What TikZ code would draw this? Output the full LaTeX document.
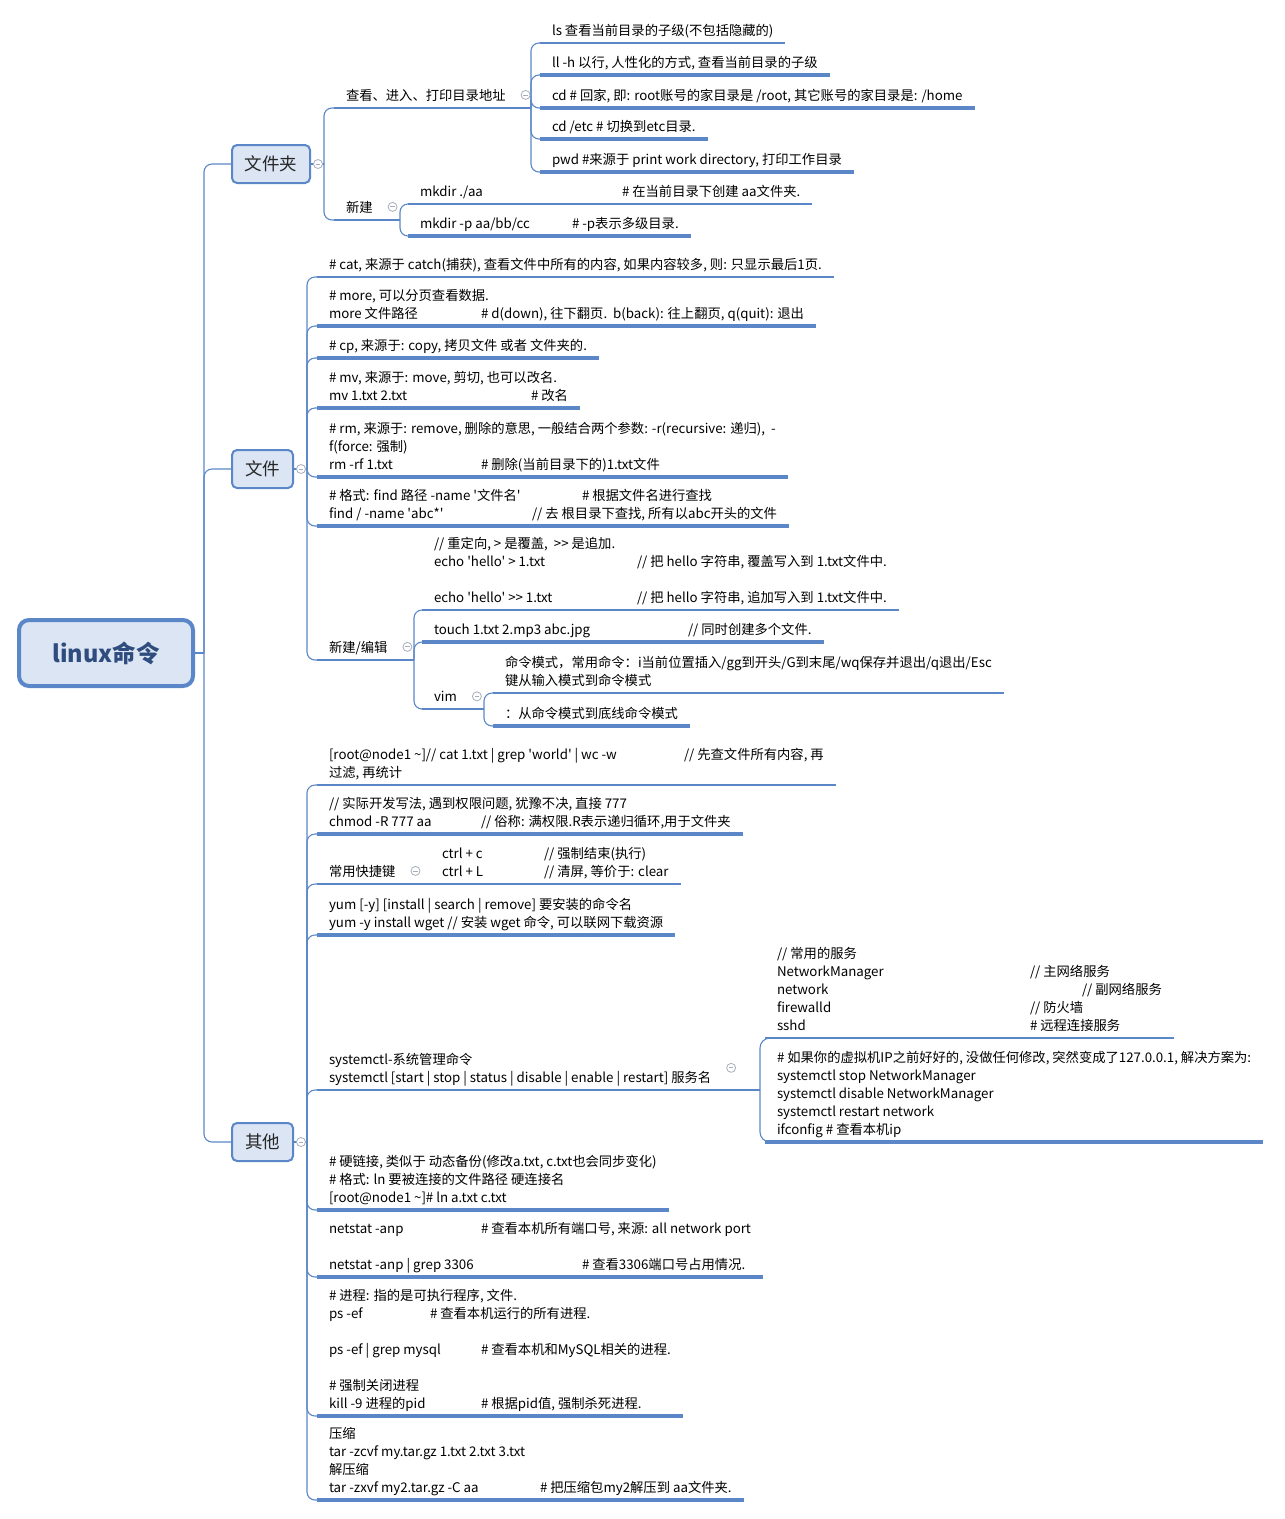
\documentclass[tikz,border=0pt]{standalone}
\usepackage{fontspec}
\newfontfamily\yh{Noto Sans CJK SC}
\usetikzlibrary{calc}
\definecolor{mmblue}{HTML}{5B87C8}
\definecolor{mmfill}{HTML}{DBE5F3}
\definecolor{mmtext}{HTML}{2F4C7E}
\definecolor{foldgray}{HTML}{A7AEBB}
\tikzset{>=stealth}
\newcommand{\tfont}{\yh\fontsize{13.3}{18}\selectfont}
\newcommand{\cmdcol}[2]{\makebox[#1pt][l]{#2}}

\begin{document}
\begin{tikzpicture}[x=1pt, y=-1pt,
    topic/.style={anchor=south west, inner xsep=12pt, inner ysep=7.5pt, text depth=0pt,
      align=left, font=\tfont, outer sep=0pt},
    rootbox/.style={draw=mmblue, fill=mmfill, line width=4pt, rounded corners=10pt,
      minimum width=174pt, minimum height=66pt, text=mmtext,
      font=\yh\fontsize{23.5}{28}\selectfont\bfseries},
    mainbox/.style={draw=mmblue, fill=mmfill, line width=2pt, rounded corners=5pt,
      minimum height=38pt, text=black!85, font=\yh\fontsize{17.5}{20}\selectfont},
    conn/.style={draw=mmblue, line width=1.1pt, rounded corners=8pt},
    thinline/.style={draw=mmblue, line width=1.1pt},
    thickline/.style={draw=mmblue, line width=3.5pt},
    foldmark/.style={circle, draw=foldgray, fill=white, line width=0.8pt, minimum size=9pt,
      inner sep=0pt, path picture={\draw[foldgray, line width=0.8pt]
        ([xshift=2.2pt]path picture bounding box.west) -- ([xshift=-2.2pt]path picture bounding box.east);}}]

\useasboundingbox (0,0) rectangle (1285,1519);

% root and first level
\node[rootbox] (root) at (106,653) {linux命令};
\node[mainbox, minimum width=78pt] (wjj) at (271,164) {文件夹};
\node[mainbox, minimum width=61pt] (wj) at (262.5,469) {文件};
\node[mainbox, minimum width=61pt] (qt) at (262.5,1142) {其他};

\coordinate (rj) at (204,653);
\draw[conn] (root.east) -- (rj);
\foreach \n in {wjj,wj,qt} \draw[conn] (rj) |- (\n.west);

% ---- 文件夹 ----
\coordinate (wjjj) at (324,164);
\draw[conn] (wjj.east) -- (wjjj);
\node[topic] (ck) at (334,108) {查看、进入、打印目录地址};
\node[topic] (xj) at (334,220) {新建};
\foreach \n in {ck,xj} \draw[conn] (wjjj) |- (\n.south west);

\coordinate (ckj) at (531,108);
\draw[thinline] (ck.south west) -- (ckj);
\node[topic] (ls) at (540,43) {ls 查看当前目录的子级(不包括隐藏的)};
\node[topic] (ll) at (540,75) {ll -h 以行, 人性化的方式, 查看当前目录的子级};
\node[topic] (cd) at (540,108) {cd \# 回家, 即: root账号的家目录是 /root, 其它账号的家目录是: /home};
\node[topic] (cdetc) at (540,139) {cd /etc \# 切换到etc目录.};
\node[topic] (pwd) at (540,172) {pwd \#来源于 print work directory, 打印工作目录};
\foreach \n in {ls,ll,cd,cdetc,pwd} \draw[conn] (ckj) |- (\n.south west);
\draw[thinline] (ls.south west) -- (ls.south east);
\foreach \n in {ll,cd,cdetc,pwd} \draw[thickline] (\n.south west) -- (\n.south east);

\coordinate (xjj) at (400,220);
\draw[thinline] (xj.south west) -- (xjj);
\node[topic] (mk) at (408,204) {\cmdcol{202}{mkdir ./aa}\# 在当前目录下创建 aa文件夹.};
\node[topic] (mkp) at (408,236) {\cmdcol{152}{mkdir -p aa/bb/cc}\# -p表示多级目录.};
\foreach \n in {mk,mkp} \draw[conn] (xjj) |- (\n.south west);
\draw[thinline] (mk.south west) -- (mk.south east);
\draw[thickline] (mkp.south west) -- (mkp.south east);

% ---- 文件 ----
\coordinate (wjn) at (307,469);
\draw[conn] (wj.east) -- (wjn);
\node[topic] (cat) at (317,277) {\# cat, 来源于 catch(捕获), 查看文件中所有的内容, 如果内容较多, 则: 只显示最后1页.};
\node[topic] (more) at (317,326) {\# more, 可以分页查看数据.\\ \cmdcol{152}{more 文件路径}\# d(down), 往下翻页.\ \ b(back): 往上翻页, q(quit): 退出};
\node[topic] (cp) at (317,358) {\# cp, 来源于: copy, 拷贝文件 或者 文件夹的.};
\node[topic] (mv) at (317,408) {\# mv, 来源于: move, 剪切, 也可以改名.\\ \cmdcol{202}{mv 1.txt 2.txt}\# 改名};
\node[topic] (rm) at (317,477) {\# rm, 来源于: remove, 删除的意思, 一般结合两个参数: -r(recursive: 递归),\ \ -\\f(force: 强制)\\ \cmdcol{152}{rm -rf 1.txt}\# 删除(当前目录下的)1.txt文件};
\node[topic] (find) at (317,526) {\cmdcol{253}{\# 格式: find 路径 -name '文件名'}\# 根据文件名进行查找\\ \cmdcol{203}{find / -name 'abc*'}// 去 根目录下查找, 所有以abc开头的文件};
\node[topic] (xb) at (317,660) {新建/编辑};
\foreach \n in {cat,more,cp,mv,rm,find,xb} \draw[conn] (wjn) |- (\n.south west);
\draw[thinline] (cat.south west) -- (cat.south east);
\foreach \n in {more,cp,mv,rm,find} \draw[thickline] (\n.south west) -- (\n.south east);

\coordinate (xbj) at (414,660);
\draw[thinline] (xb.south west) -- (xbj);
\node[topic] (echo) at (422,610) {// 重定向, > 是覆盖,\ \ >\kern0pt> 是追加.\\ \cmdcol{203}{echo 'hello' > 1.txt}// 把 hello 字符串, 覆盖写入到 1.txt文件中.\\[18pt]\cmdcol{203}{echo 'hello' >\kern0pt> 1.txt}// 把 hello 字符串, 追加写入到 1.txt文件中.};
\node[topic] (touch) at (422,642) {\cmdcol{254}{touch 1.txt 2.mp3 abc.jpg}// 同时创建多个文件.};
\node[topic] (vim) at (422,709) {vim};
\foreach \n in {echo,touch,vim} \draw[conn] (xbj) |- (\n.south west);
\draw[thinline] (echo.south west) -- (echo.south east);
\draw[thickline] (touch.south west) -- (touch.south east);

\coordinate (vimj) at (484,709);
\draw[thinline] (vim.south west) -- (vimj);
\node[topic] (cmdm) at (493,693) {命令模式，常用命令：i当前位置插入/gg到开头/G到末尾/wq保存并退出/q退出/Esc\\键从输入模式到命令模式};
\node[topic] (lastm) at (493,726) {：从命令模式到底线命令模式};
\foreach \n in {cmdm,lastm} \draw[conn] (vimj) |- (\n.south west);
\draw[thinline] (cmdm.south west) -- (cmdm.south east);
\draw[thickline] (lastm.south west) -- (lastm.south east);

% ---- 其他 ----
\coordinate (qtj) at (307,1142);
\draw[conn] (qt.east) -- (qtj);
\node[topic] (grep) at (317,785) {\cmdcol{355}{[root@node1 \textasciitilde]// cat 1.txt | grep 'world' | wc -w}// 先查文件所有内容, 再\\过滤, 再统计};
\node[topic] (chmod) at (317,834) {// 实际开发写法, 遇到权限问题, 犹豫不决, 直接 777\\ \cmdcol{152}{chmod -R 777 aa}// 俗称: 满权限.R表示递归循环,用于文件夹};
\node[topic] (kj) at (317,884) {常用快捷键};
\node[topic] (ctrl) at (430,884) {\cmdcol{102}{ctrl + c}// 强制结束(执行)\\ \cmdcol{102}{ctrl + L}// 清屏, 等价于: clear};
\node[topic] (yum) at (317,935) {yum [-y] [install | search | remove] 要安装的命令名\\yum -y install wget // 安装 wget 命令, 可以联网下载资源};
\node[topic] (sys) at (317,1090) {systemctl-系统管理命令\\systemctl [start | stop | status | disable | enable | restart] 服务名};
\node[topic] (ln) at (317,1210) {\# 硬链接, 类似于 动态备份(修改a.txt, c.txt也会同步变化)\\\# 格式: ln 要被连接的文件路径 硬连接名\\{}[root@node1 \textasciitilde]\# ln a.txt c.txt};
\node[topic] (net) at (317,1277) {\cmdcol{152}{netstat -anp}\# 查看本机所有端口号, 来源: all network port\\[18pt]\cmdcol{253}{netstat -anp | grep 3306}\# 查看3306端口号占用情况.};
\node[topic] (ps) at (317,1416) {\# 进程: 指的是可执行程序, 文件.\\ \cmdcol{101}{ps -ef}\# 查看本机运行的所有进程.\\[18pt]\cmdcol{152}{ps -ef | grep mysql}\# 查看本机和MySQL相关的进程.\\[18pt]\# 强制关闭进程\\ \cmdcol{152}{kill -9 进程的pid}\# 根据pid值, 强制杀死进程.};
\node[topic] (tar) at (317,1500) {压缩\\tar -zcvf my.tar.gz 1.txt 2.txt 3.txt\\解压缩\\ \cmdcol{211}{tar -zxvf my2.tar.gz -C aa}\# 把压缩包my2解压到 aa文件夹.};
\foreach \n in {grep,chmod,kj,yum,sys,ln,net,ps,tar} \draw[conn] (qtj) |- (\n.south west);
\draw[conn] (kj.south west) -- (ctrl.south west);
\foreach \n in {grep,ctrl} \draw[thinline] (\n.south west) -- (\n.south east);
\foreach \n in {chmod,yum,ln,net,ps,tar} \draw[thickline] (\n.south west) -- (\n.south east);

\coordinate (sysj) at (760,1090);
\draw[thinline] (sys.south west) -- (sysj);
\node[topic] (svc) at (765,1038) {// 常用的服务\\ \cmdcol{253}{NetworkManager}// 主网络服务\\ \cmdcol{305}{network}// 副网络服务\\ \cmdcol{253}{firewalld}// 防火墙\\ \cmdcol{253}{sshd}\# 远程连接服务};
\node[topic] (fix) at (765,1142) {\# 如果你的虚拟机IP之前好好的, 没做任何修改, 突然变成了127.0.0.1, 解决方案为:\\systemctl stop NetworkManager\\systemctl disable NetworkManager\\systemctl restart network\\ifconfig \# 查看本机ip};
\foreach \n in {svc,fix} \draw[conn, rounded corners=10pt] (sysj) |- (\n.south west);
\draw[thinline] (svc.south west) -- (svc.south east);
\draw[thickline] (fix.south west) -- (fix.south east);

% fold marks
\node[foldmark] (f1) at ([xshift=7pt]wjj.east) {};
\node[foldmark] (f2) at ([xshift=7pt]wj.east) {};
\node[foldmark] (f3) at ([xshift=7pt]qt.east) {};
\node[foldmark] (f4) at ([xshift=8pt]ck.east) {};
\node[foldmark] (f5) at ([xshift=8pt]xj.east) {};
\node[foldmark] (f6) at ([xshift=8pt]xb.east) {};
\node[foldmark] (f7) at ([xshift=8pt]vim.east) {};
\node[foldmark] (f8) at ([xshift=8pt]kj.east) {};
\node[foldmark] (f9) at ([xshift=8pt]sys.east) {};

\end{tikzpicture}
\end{document}
